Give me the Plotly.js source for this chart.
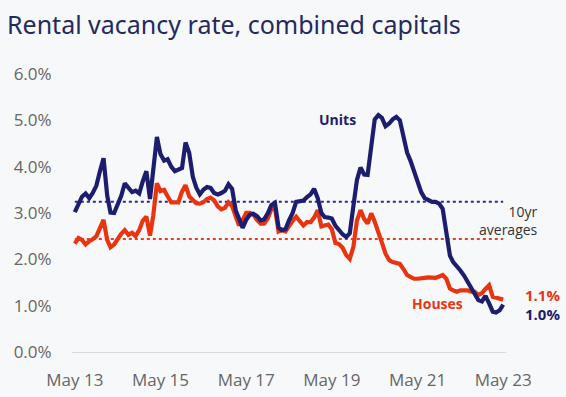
<!DOCTYPE html>
<html><head><meta charset="utf-8">
<script src="https://cdn.plot.ly/plotly-3.0.1.min.js"></script>
<style>html,body{margin:0;padding:0;background:#f7f8fa;}#chart{width:566px;height:397px;}</style>
</head><body><div id="chart"></div>
<script>
// Monthly series, May 2013 .. May 2023 (%)
const startYear = 2013, startMonth = 5;
const units = [
3.02,3.21,3.35,3.42,3.32,3.43,3.59,3.9,4.18,3.38,
3.01,3.0,3.16,3.37,3.64,3.53,3.45,3.48,3.42,3.68,
3.9,3.3,4.03,4.64,4.27,4.13,4.16,4.0,3.9,3.93,
3.97,4.52,4.3,3.78,3.55,3.4,3.5,3.56,3.54,3.43,
3.4,3.43,3.48,3.62,3.52,3.05,2.85,2.68,2.85,2.96,
2.98,2.93,2.84,2.86,2.99,3.17,3.22,2.69,2.63,2.65,
2.84,3.0,3.24,3.26,3.27,3.34,3.4,3.52,3.32,3.0,
2.91,2.9,2.88,2.72,2.63,2.54,2.48,2.56,3.15,3.71,
3.98,3.83,3.82,4.5,5.02,5.11,5.05,4.87,4.93,5.02,
5.07,5.0,4.68,4.3,4.13,3.88,3.68,3.45,3.32,3.27,
3.24,3.24,3.2,3.09,2.55,2.08,1.94,1.86,1.76,1.65,
1.51,1.37,1.24,1.12,1.09,1.21,1.05,0.87,0.85,0.9,
1.02];
const houses = [
2.34,2.46,2.42,2.32,2.39,2.43,2.5,2.65,2.85,2.42,
2.26,2.32,2.45,2.55,2.63,2.53,2.57,2.5,2.63,2.83,
2.92,2.51,2.95,3.64,3.47,3.5,3.36,3.23,3.23,3.23,
3.46,3.6,3.36,3.27,3.21,3.2,3.23,3.3,3.33,3.27,
3.14,3.08,3.11,3.23,3.15,2.92,2.73,2.85,3.0,3.0,
2.97,2.85,2.77,2.77,2.88,3.08,3.11,2.6,2.63,2.6,
2.73,2.83,2.92,2.83,2.73,2.8,2.8,2.9,3.06,2.71,
2.74,2.75,2.65,2.35,2.33,2.25,2.09,2.01,2.27,2.83,
3.06,2.87,2.77,2.99,2.81,2.55,2.36,2.12,1.98,1.94,
1.93,1.9,1.79,1.66,1.62,1.58,1.58,1.6,1.6,1.61,
1.61,1.6,1.63,1.66,1.58,1.37,1.33,1.3,1.33,1.34,
1.33,1.3,1.3,1.23,1.27,1.36,1.44,1.19,1.17,1.17,
1.13];
const unitsAvg = 3.24;
const housesAvg = 2.44;
const tickDates = ['2013-05-01','2015-05-01','2017-05-01','2019-05-01','2021-05-01','2023-05-01'];
const tickLabels = ['May 13','May 15','May 17','May 19','May 21','May 23'];
const yTicks = [0,1,2,3,4,5,6];
const yTickLabels = ['0.0%','1.0%','2.0%','3.0%','4.0%','5.0%','6.0%'];

const months = [];
for (let i = 0; i < units.length; i++) {
  const m = startMonth - 1 + i;
  const y = startYear + Math.floor(m / 12);
  const mm = (m % 12) + 1;
  months.push(y + '-' + String(mm).padStart(2, '0') + '-01');
}
const first = months[0], last = months[months.length - 1];

const NAVY = '#1c1d6e', RED = '#e8350f';
const traces = [
  {x:[first,last], y:[unitsAvg,unitsAvg], mode:'lines', line:{color:'#2c2e7c', width:2, dash:'dot'}, hoverinfo:'skip', showlegend:false},
  {x:[first,last], y:[housesAvg,housesAvg], mode:'lines', line:{color:'#e8401c', width:2, dash:'dot'}, hoverinfo:'skip', showlegend:false},
  {x:months, y:houses, name:'Houses', mode:'lines', line:{color:RED, width:4.2}, showlegend:false},
  {x:months, y:units, name:'Units', mode:'lines', line:{color:NAVY, width:4.2}, showlegend:false}
];

const PW = 434, PH = 291.9;
function px(x){ return (x - 72) / PW; }
function py(y){ return (352 - y) / PH; }

const layout = {
  width:566, height:397,
  paper_bgcolor:'#f7f8fa', plot_bgcolor:'#f7f8fa',
  margin:{l:72, r:60, t:60.1, b:44.9, pad:0},
  title:{text:'Rental vacancy rate, combined capitals', x:7/566, xanchor:'left', xref:'container', y:1-25/397, yanchor:'middle', yref:'container',
    font:{family:'Noto Sans', size:25, color:'#252a5e'}},
  xaxis:{type:'date', range:['2013-04-07','2023-05-25'], tickvals:tickDates, ticktext:tickLabels,
    showgrid:false, zeroline:false, showline:false, ticks:'outside', ticklen:13, tickcolor:'rgba(0,0,0,0)',
    tickfont:{family:'Open Sans', size:17, color:'#666666'}},
  yaxis:{range:[0,6.3], tickvals:yTicks, ticktext:yTickLabels, showgrid:false,
    zeroline:true, zerolinecolor:'#d9d9d9', zerolinewidth:1, showline:false,
    ticks:'outside', ticklen:16, tickcolor:'rgba(0,0,0,0)',
    tickfont:{family:'Open Sans', size:17, color:'#666666'}},
  annotations:[
    {text:'<b>Units</b>', xref:'paper', yref:'paper', x:px(337), y:py(120), xanchor:'center', yanchor:'middle', showarrow:false,
      font:{family:'Open Sans', size:14, color:NAVY}},
    {text:'<b>Houses</b>', xref:'paper', yref:'paper', x:px(437), y:py(304), xanchor:'center', yanchor:'middle', showarrow:false,
      font:{family:'Open Sans', size:14, color:RED}},
    {text:'10yr<br>averages', xref:'paper', yref:'paper', x:px(540), y:py(221), xanchor:'right', yanchor:'middle', align:'right', showarrow:false,
      font:{family:'Open Sans', size:14, color:'#333333'}},
    {text:'<b>1.1%</b>', xref:'paper', yref:'paper', x:px(524), y:py(295), xanchor:'left', yanchor:'middle', showarrow:false, borderpad:0,
      font:{family:'Open Sans', size:15, color:RED}},
    {text:'<b>1.0%</b>', xref:'paper', yref:'paper', x:px(524), y:py(314), xanchor:'left', yanchor:'middle', showarrow:false, borderpad:0,
      font:{family:'Open Sans', size:15, color:NAVY}}
  ]
};
Plotly.newPlot('chart', traces, layout, {displayModeBar:false, staticPlot:true});
</script>
</body></html>
